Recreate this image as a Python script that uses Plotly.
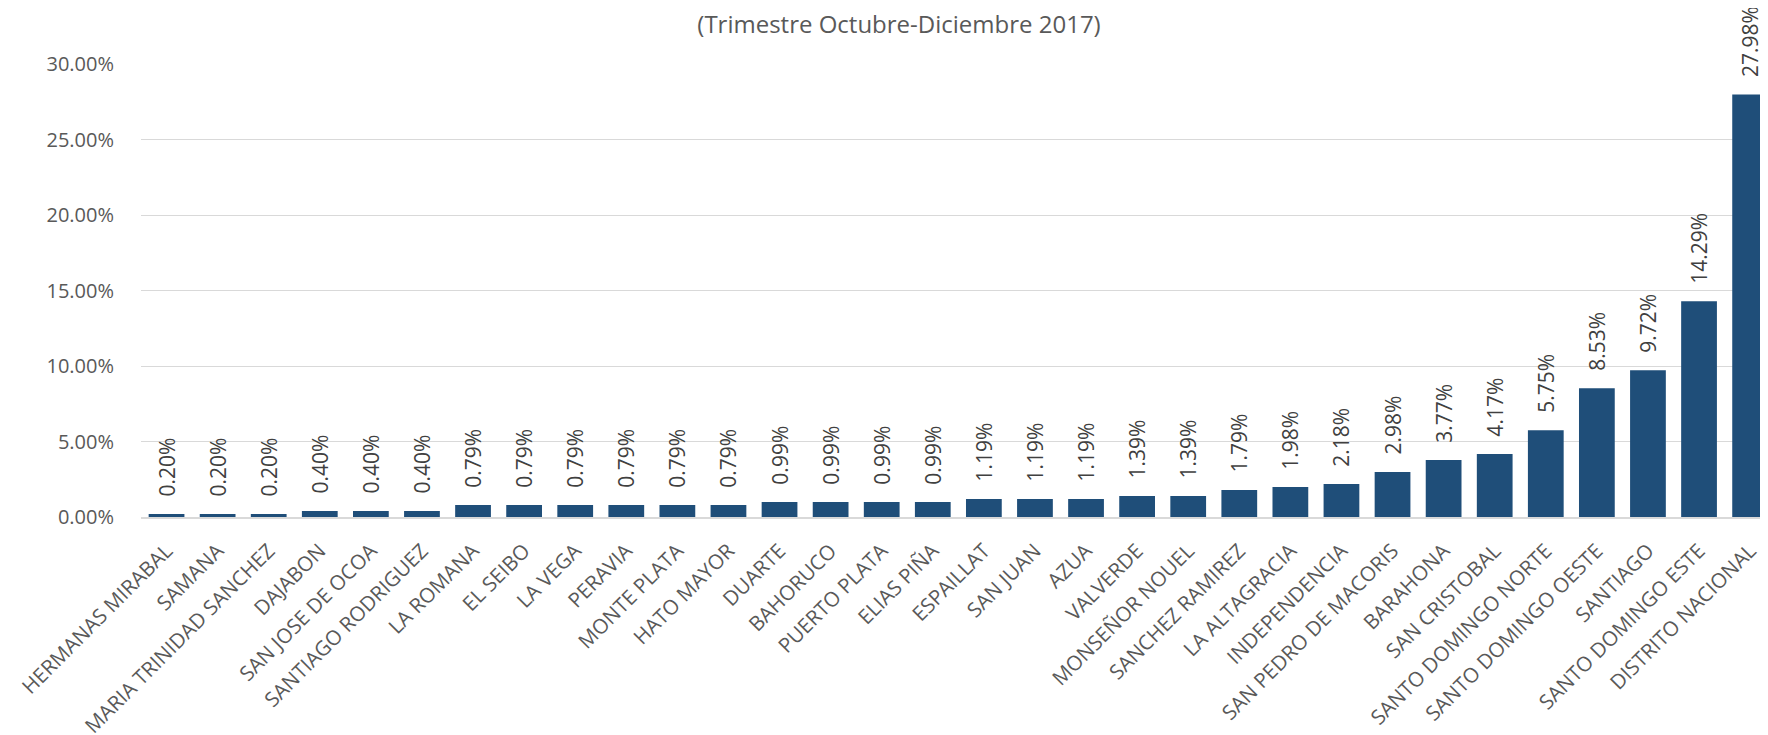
import plotly.graph_objects as go

provincias = [
    "HERMANAS MIRABAL", "SAMANA", "MARIA TRINIDAD SANCHEZ", "DAJABON",
    "SAN JOSE DE OCOA", "SANTIAGO RODRIGUEZ", "LA ROMANA", "EL SEIBO",
    "LA VEGA", "PERAVIA", "MONTE PLATA", "HATO MAYOR", "DUARTE", "BAHORUCO",
    "PUERTO PLATA", "ELIAS PIÑA", "ESPAILLAT", "SAN JUAN", "AZUA", "VALVERDE",
    "MONSEÑOR NOUEL", "SANCHEZ RAMIREZ", "LA ALTAGRACIA", "INDEPENDENCIA",
    "SAN PEDRO DE MACORIS", "BARAHONA", "SAN CRISTOBAL", "SANTO DOMINGO NORTE",
    "SANTO DOMINGO OESTE", "SANTIAGO", "SANTO DOMINGO ESTE", "DISTRITO NACIONAL",
]
porcentaje = [
    0.20, 0.20, 0.20, 0.40, 0.40, 0.40, 0.79, 0.79, 0.79, 0.79, 0.79, 0.79,
    0.99, 0.99, 0.99, 0.99, 1.19, 1.19, 1.19, 1.39, 1.39, 1.79, 1.98, 2.18,
    2.98, 3.77, 4.17, 5.75, 8.53, 9.72, 14.29, 27.98,
]
y_ticks = [0, 5, 10, 15, 20, 25, 30]
y_ticklabels = ["0.00%", "5.00%", "10.00%", "15.00%", "20.00%", "25.00%", "30.00%"]

text_color = "#595959"
font_family = "Open Sans, Arial, sans-serif"

# the page body has an 8px margin, so the figure is sized to fit the window
W, H = 1760, 727

fig = go.Figure(go.Bar(
    x=list(range(len(provincias))),
    y=porcentaje,
    marker=dict(color="#1F4E79", line=dict(width=0)),
    # leading spaces keep the label off the top of the bar, like Excel does
    texttemplate="\u00a0\u00a0\u2009%{y:.2f}%",
    textposition="outside",
    textangle=-90,
    constraintext="none",
    cliponaxis=False,
    textfont=dict(family=font_family, size=21, color="#404040"),
))

fig.update_layout(
    width=W,
    height=H,
    title=dict(
        text="(Trimestre Octubre-Diciembre 2017)",
        x=891 / W, xanchor="center", xref="container",
        y=1 - 17 / H, yanchor="middle", yref="container",
        font=dict(family=font_family, size=24, color=text_color),
    ),
    plot_bgcolor="white",
    paper_bgcolor="white",
    bargap=0.3,
    showlegend=False,
    margin=dict(l=133, r=0, t=56, b=218, autoexpand=False),
    xaxis=dict(
        range=[-0.5, 31.35],
        tickmode="array",
        tickvals=list(range(len(provincias))),
        ticktext=provincias,
        tickangle=-45,
        tickfont=dict(family=font_family, size=20.5, color=text_color),
        showgrid=False,
        showline=True,
        linecolor="#D9D9D9",
        linewidth=1.5,
        ticks="",
        ticklabelstandoff=12,
        automargin=False,
    ),
    yaxis=dict(
        range=[0, 30],
        tickmode="array",
        tickvals=y_ticks,
        ticktext=y_ticklabels,
        tickfont=dict(family=font_family, size=20, color=text_color),
        showgrid=True,
        gridcolor="#D9D9D9",
        gridwidth=1,
        zeroline=False,
        ticklabelstandoff=26,
        automargin=False,
    ),
)

fig.write_html("out.html")
